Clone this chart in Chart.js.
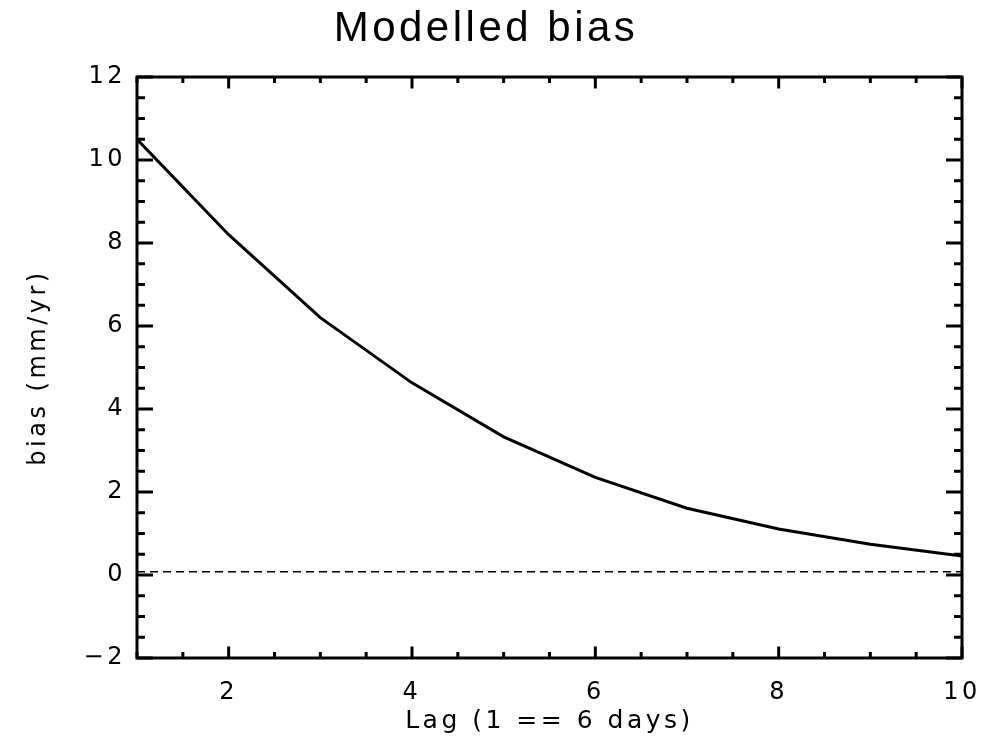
<!DOCTYPE html>
<html>
<head>
<meta charset="utf-8">
<title>Modelled bias</title>
<script src="https://cdn.jsdelivr.net/npm/chart.js@4.4.0/dist/chart.umd.min.js"></script>
<style>
  body { margin: 0; background: #fff; }
  #graphicBias { display: block; }
</style>
</head>
<body>
<canvas id="graphicBias" width="1000" height="747"></canvas>
<script>
// Modelled bias vs lag
// Librerias: Chart.js

//---DATA
const lags = [1, 2, 3, 4, 5, 6, 7, 8, 9, 10];
const bias = [10.5, 8.2, 6.2, 4.63, 3.33, 2.35, 1.61, 1.11, 0.74, 0.46];
const zeroLineX = [1, 10];
const zeroLineY = [0.08, 0.08];
const xTickValues = [2, 4, 6, 8, 10];
const yTickValues = [-2, 0, 2, 4, 6, 8, 10, 12];
const minorStep = 0.5;

function toPoints(xs, ys){
  return xs.map((x, i) => ({x: x, y: ys[i]}));
}

//---FRAME + INWARD TICKS (IDL style box)
const axisFrame = {
  id: 'axisFrame',
  beforeDraw(chart){
    // wide lettering like the original plot font
    chart.ctx.letterSpacing = '3.5px';
  },
  afterDraw(chart){
    const ctx = chart.ctx;
    const {left, right, top, bottom} = chart.chartArea;
    const xs = chart.scales.x;
    const ys = chart.scales.y;
    ctx.save();
    ctx.strokeStyle = '#000';
    ctx.lineWidth = 3;
    ctx.lineCap = 'butt';
    ctx.strokeRect(left, top, right - left, bottom - top);

    ctx.beginPath();
    for (let v = xs.min; v <= xs.max + 1e-9; v += minorStep) {
      let px = xs.getPixelForValue(v);
      let len = xTickValues.includes(v) ? 11.5 : 6;
      ctx.moveTo(px, bottom); ctx.lineTo(px, bottom - len);
      ctx.moveTo(px, top); ctx.lineTo(px, top + len);
    }
    for (let v = ys.min; v <= ys.max + 1e-9; v += minorStep) {
      let py = ys.getPixelForValue(v);
      let len = yTickValues.includes(v) ? 16 : 8;
      ctx.moveTo(left, py); ctx.lineTo(left + len, py);
      ctx.moveTo(right, py); ctx.lineTo(right - len, py);
    }
    ctx.stroke();
    ctx.restore();
    ctx.letterSpacing = '0px';
  }
};

//---CHART
let chart1;
function drawBias(){
  var ctx = document.getElementById('graphicBias').getContext('2d');
  if (chart1) {
    chart1.destroy();
  }
  chart1 = new Chart(ctx, {
    type: 'line',
    data: {
      datasets: [
        {
          label: 'bias',
          data: toPoints(lags, bias),
          borderColor: '#000',
          borderWidth: 3,
          pointRadius: 0,
          tension: 0,
          fill: false
        },
        {
          label: 'zero',
          data: toPoints(zeroLineX, zeroLineY),
          borderColor: '#000',
          borderWidth: 1.5,
          borderDash: [8, 5],
          pointRadius: 0,
          fill: false
        }
      ]
    },
    plugins: [axisFrame],
    options: {
      responsive: false,
      animation: false,
      layout: { padding: { left: 10, right: 38, top: 0, bottom: 0 } },
      plugins: {
        legend: { display: false },
        tooltip: { enabled: false },
        title: {
          display: true,
          text: 'Modelled bias',
          color: '#000',
          font: { family: '"Liberation Sans", Arial, sans-serif', size: 42, weight: 'normal', lineHeight: 1.2 },
          padding: { top: 4, bottom: 22.6 }
        }
      },
      scales: {
        x: {
          type: 'linear',
          min: 1,
          max: 10,
          grid: { display: false, drawTicks: false },
          border: { display: false },
          afterBuildTicks: scale => { scale.ticks = xTickValues.map(v => ({value: v})); },
          afterFit: scale => { scale.height = 89; scale.paddingLeft = 0; scale.paddingRight = 0; },
          ticks: {
            color: '#000',
            padding: 20,
            maxRotation: 0,
            font: { family: '"DejaVu Sans", sans-serif', size: 24 }
          },
          title: {
            display: true,
            text: 'Lag (1 == 6 days)',
            color: '#000',
            font: { family: '"DejaVu Sans", sans-serif', size: 25 },
            padding: { top: 0, bottom: 11 }
          }
        },
        y: {
          type: 'linear',
          min: -2,
          max: 12,
          grid: { display: false, drawTicks: false },
          border: { display: false },
          afterBuildTicks: scale => { scale.ticks = yTickValues.map(v => ({value: v})); },
          afterFit: scale => { scale.width = 127; },
          ticks: {
            color: '#000',
            padding: 11,
            font: { family: '"DejaVu Sans", sans-serif', size: 24 },
            callback: v => v < 0 ? '\u2212' + Math.abs(v) : String(v)
          },
          title: {
            display: true,
            text: 'bias (mm/yr)',
            color: '#000',
            font: { family: '"DejaVu Sans", sans-serif', size: 24 },
            padding: { top: 14, bottom: 0 }
          }
        }
      }
    }
  });
}

drawBias();
</script>
</body>
</html>
